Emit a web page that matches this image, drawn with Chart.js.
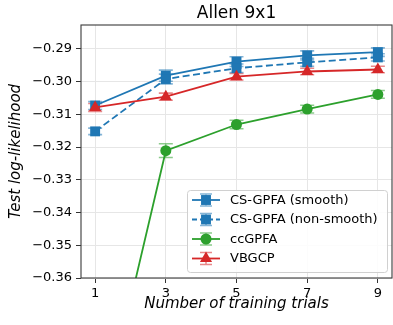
<!DOCTYPE html>
<html><head><meta charset="utf-8">
<script src="https://cdn.jsdelivr.net/npm/chart.js@4"></script>
<style>html,body{margin:0;padding:0;background:#fff}#wrap{width:393px;height:325px}</style>
</head><body><div id="wrap"><canvas id="c" width="393" height="325"></canvas></div>
<script>
const trials = [1, 3, 5, 7, 9];
const xTicks = [1, 3, 5, 7, 9];
const yTicks = [-0.36, -0.35, -0.34, -0.33, -0.32, -0.31, -0.30, -0.29];
const smoothVals = [-0.3073, -0.2982, -0.2939, -0.2920, -0.2910];
const smoothErr = [0.0012, 0.0017, 0.0015, 0.0014, 0.0013];
const nonSmoothVals = [-0.3152, -0.2992, -0.2959, -0.2941, -0.2926];
const nonSmoothErr = [0.0010, 0.0015, 0.0013, 0.0012, 0.0011];
const ccVals = [-0.413, -0.3211, -0.3131, -0.3084, -0.3039];
const ccErr = [0.0030, 0.0021, 0.0013, 0.0012, 0.0012];
const vbVals = [-0.3079, -0.3046, -0.2985, -0.2969, -0.2963];
const vbErr = [0.0012, 0.0011, 0.0010, 0.0010, 0.0010];
const labels = ['CS-GPFA (smooth)', 'CS-GPFA (non-smooth)', 'ccGPFA', 'VBGCP'];
const titleText = 'Allen 9x1';

const BLUE = '#1f77b4', GREEN = '#2ca02c', RED = '#d62728';
const FONT = 'DejaVu Sans';

const series = [
  {label: labels[0], vals: smoothVals, err: smoothErr, color: BLUE, style: 'rect', r: 7, dash: [], order: 3},
  {label: labels[1], vals: nonSmoothVals, err: nonSmoothErr, color: BLUE, style: 'rect', r: 7, dash: [7, 3.5], order: 2},
  {label: labels[2], vals: ccVals, err: ccErr, color: GREEN, style: 'circle', r: 5.5, dash: [], order: 1},
  {label: labels[3], vals: vbVals, err: vbErr, color: RED, style: 'triangle', r: 7, dash: [], order: 0}
];

const datasets = series.map(s => ({
  label: s.label,
  data: trials.map((t, i) => ({x: t, y: s.vals[i]})),
  borderColor: s.color,
  backgroundColor: s.color,
  borderWidth: 1.8,
  borderDash: s.dash,
  pointStyle: s.style,
  pointRadius: s.r,
  pointBorderWidth: 0,
  pointBackgroundColor: s.color,
  tension: 0,
  order: s.order
}));

function drawMarker(ctx, style, x, y, r, color) {
  ctx.save();
  ctx.fillStyle = color;
  ctx.beginPath();
  if (style === 'rect') {
    const h = r / Math.SQRT2;
    ctx.rect(x - h, y - h, 2 * h, 2 * h);
  } else if (style === 'circle') {
    ctx.arc(x, y, r, 0, Math.PI * 2);
  } else {
    ctx.moveTo(x, y - r);
    ctx.lineTo(x + r * 0.866, y + r * 0.5);
    ctx.lineTo(x - r * 0.866, y + r * 0.5);
    ctx.closePath();
  }
  ctx.fill();
  ctx.restore();
}

const errPlugin = {
  id: 'errbars',
  beforeDatasetsDraw(chart) {
    const ctx = chart.ctx, xs = chart.scales.x, ys = chart.scales.y, a = chart.chartArea;
    ctx.save();
    ctx.beginPath(); ctx.rect(a.left, a.top, a.right - a.left, a.bottom - a.top); ctx.clip();
    series.slice().reverse().forEach(s => {
      ctx.strokeStyle = s.color; ctx.globalAlpha = 0.55; ctx.lineWidth = 1.6;
      trials.forEach((t, i) => {
        const x = xs.getPixelForValue(t);
        const y1 = ys.getPixelForValue(s.vals[i] - s.err[i]);
        const y2 = ys.getPixelForValue(s.vals[i] + s.err[i]);
        ctx.beginPath();
        ctx.moveTo(x, y1); ctx.lineTo(x, y2);
        ctx.moveTo(x - 7, y1); ctx.lineTo(x + 7, y1);
        ctx.moveTo(x - 7, y2); ctx.lineTo(x + 7, y2);
        ctx.stroke();
      });
    });
    ctx.restore();
  },
  afterDraw(chart) {
    const ctx = chart.ctx, a = chart.chartArea;
    ctx.save();
    ctx.strokeStyle = '#3a3a3a'; ctx.lineWidth = 1.1;
    ctx.strokeRect(a.left, a.top, a.right - a.left, a.bottom - a.top);
    ctx.fillStyle = '#000'; ctx.font = '17px "' + FONT + '"';
    ctx.textAlign = 'center'; ctx.textBaseline = 'middle';
    ctx.fillText(titleText, (a.left + a.right) / 2, 13.5);
    const lx = 187, ly = 190, lw = 200, lh = 82, rad = 3;
    ctx.globalAlpha = 0.85; ctx.fillStyle = '#fff';
    ctx.beginPath(); ctx.roundRect(lx, ly, lw, lh, rad); ctx.fill();
    ctx.globalAlpha = 1; ctx.strokeStyle = '#d0d0d0'; ctx.lineWidth = 1;
    ctx.beginPath(); ctx.roundRect(lx + 0.5, ly + 0.5, lw, lh, rad); ctx.stroke();
    const rows = [200, 219.5, 239, 258.5];
    series.forEach((s, i) => {
      const y = rows[i], x0 = 192, x1 = 220, xm = 206;
      ctx.save();
      ctx.strokeStyle = s.color; ctx.lineWidth = 1.8; ctx.setLineDash(s.dash.length ? [5, 3] : []);
      ctx.beginPath(); ctx.moveTo(x0, y); ctx.lineTo(x1, y); ctx.stroke();
      ctx.setLineDash([]); ctx.globalAlpha = 0.55; ctx.lineWidth = 1.6;
      ctx.beginPath();
      ctx.moveTo(xm, y - 6); ctx.lineTo(xm, y + 6);
      ctx.moveTo(xm - 6, y - 6); ctx.lineTo(xm + 6, y - 6);
      ctx.moveTo(xm - 6, y + 6); ctx.lineTo(xm + 6, y + 6);
      ctx.stroke();
      ctx.restore();
      drawMarker(ctx, s.style, xm, y, s.r, s.color);
      ctx.fillStyle = '#000'; ctx.font = '13px "' + FONT + '"';
      ctx.textAlign = 'left'; ctx.textBaseline = 'middle';
      ctx.fillText(s.label, 230, y + 0.5);
    });
    ctx.restore();
  }
};

new Chart(document.getElementById('c'), {
  type: 'line',
  data: {datasets},
  options: {
    responsive: false, animation: false, devicePixelRatio: 1,
    layout: {autoPadding: false, padding: {top: 25, left: 0, right: 1, bottom: 0}},
    plugins: {legend: {display: false}, tooltip: {enabled: false}, title: {display: false}},
    scales: {
      x: {
        type: 'linear', min: 0.6, max: 9.4,
        afterBuildTicks: s => { s.ticks = xTicks.map(v => ({value: v})); },
        afterFit: s => { s.height = 47; s.paddingLeft = 0; s.paddingRight = 0; },
        grid: {color: '#e6e6e6', tickColor: '#333', tickLength: 5, lineWidth: 1},
        border: {display: false},
        ticks: {color: '#000', font: {family: FONT, size: 13}, padding: 3, maxRotation: 0,
          callback: v => String(v)},
        title: {display: true, text: 'Number of training trials', color: '#000',
          font: {family: FONT, size: 15, style: 'italic'}, padding: {top: 0, bottom: 12}}
      },
      y: {
        type: 'linear', min: -0.36, max: -0.2827,
        afterBuildTicks: s => { s.ticks = yTicks.map(v => ({value: v})); },
        afterFit: s => { s.width = 81; s.paddingTop = 0; s.paddingBottom = 0; },
        grid: {color: '#e6e6e6', tickColor: '#333', tickLength: 5, lineWidth: 1},
        border: {display: false},
        ticks: {color: '#000', font: {family: FONT, size: 13}, padding: 4,
          callback: v => '\u2212' + Math.abs(v).toFixed(2)},
        title: {display: true, text: 'Test log-likelihood', color: '#000',
          font: {family: FONT, size: 15, style: 'italic'}, padding: {top: 7, bottom: 0}}
      }
    }
  },
  plugins: [errPlugin]
});
</script>
</body></html>
